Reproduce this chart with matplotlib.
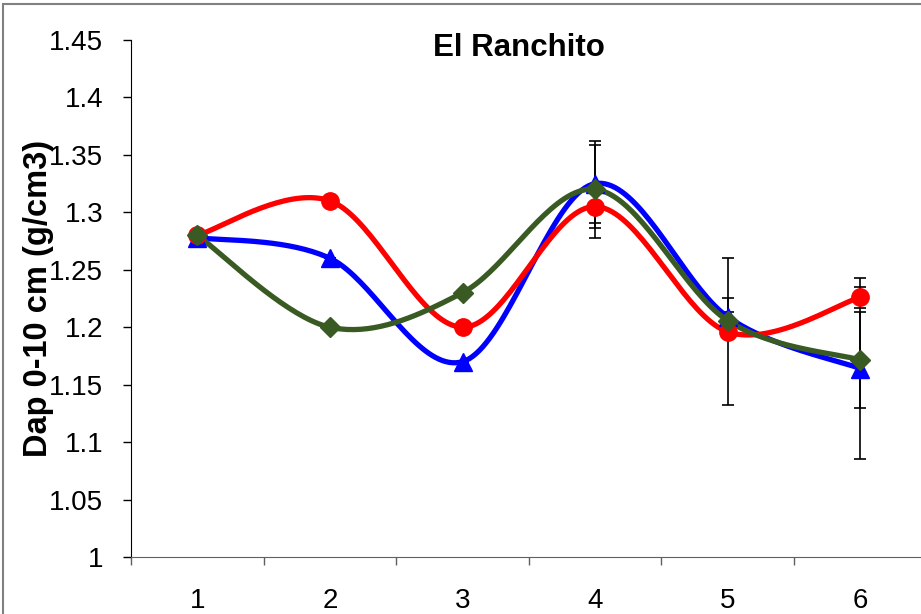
import numpy as np
import matplotlib
matplotlib.use("Agg")
import matplotlib.pyplot as plt
from matplotlib.patches import Rectangle

plt.rcParams['font.family'] = ['Liberation Sans', 'DejaVu Sans']

# sampling dates and bulk density (g/cm3) per treatment
fechas = [1, 2, 3, 4, 5, 6]
dap_rojo = [1.28, 1.31, 1.20, 1.305, 1.196, 1.226]
dap_azul = [1.278, 1.26, 1.17, 1.325, 1.209, 1.164]
dap_verde = [1.28, 1.20, 1.23, 1.32, 1.2057, 1.1715]

# error bars (lower, upper)
err_rojo = [[0, 0, 0, 0.019, 0.0, 0.009], [0, 0, 0, 0.019, 0.017, 0.009]]
err_azul = [[0, 0, 0, 0.034, 0.077, 0.079], [0, 0, 0, 0.034, 0.051, 0.079]]
err_verde = [[0, 0, 0, 0.042, 0.0, 0.042], [0, 0, 0, 0.042, 0.0195, 0.042]]

titulo = "El Ranchito"
etiqueta_y = "Dap 0-10 cm (g/cm3)"


def suavizar(x, y, n=40):
    # Catmull-Rom style bezier smoothing, like spreadsheet "smoothed line"
    x = np.asarray(x, float)
    y = np.asarray(y, float)
    px = np.concatenate([[x[0]], x, [x[-1]]])
    py = np.concatenate([[y[0]], y, [y[-1]]])
    xs, ys = [], []
    t = np.linspace(0, 1, n)
    for i in range(1, len(px) - 2):
        p0 = np.array([px[i], py[i]])
        p3 = np.array([px[i + 1], py[i + 1]])
        c1 = p0 + (np.array([px[i + 1], py[i + 1]]) - np.array([px[i - 1], py[i - 1]])) / 6
        c2 = p3 - (np.array([px[i + 2], py[i + 2]]) - np.array([px[i], py[i]])) / 6
        b = ((1 - t) ** 3)[:, None] * p0 + (3 * (1 - t) ** 2 * t)[:, None] * c1 \
            + (3 * (1 - t) * t ** 2)[:, None] * c2 + (t ** 3)[:, None] * p3
        xs.extend(b[:, 0])
        ys.extend(b[:, 1])
    return xs, ys


fig = plt.figure(figsize=(9.21, 6.14), dpi=100)
ax = fig.add_axes([131 / 921, 57 / 614, 795.6 / 921, 517 / 614])

series = [
    (dap_azul, err_azul, '#0000ff', '^', 13),
    (dap_rojo, err_rojo, '#ff0000', 'o', 12.5),
    (dap_verde, err_verde, '#3a5a24', 'D', 10),
]
for vals, err, col, mk, ms in series:
    ax.errorbar(fechas, vals, yerr=err, fmt='none', ecolor='black',
                elinewidth=1.2, capsize=4.5, capthick=1.2, zorder=2)
for vals, err, col, mk, ms in series:
    sx, sy = suavizar(fechas, vals)
    ax.plot(sx, sy, color=col, lw=3.8, zorder=3, solid_capstyle='round')
    ax.plot(fechas, vals, linestyle='none', marker=mk, ms=ms, color=col, zorder=4)

ax.set_xlim(0.5, 6.5)
ax.set_ylim(1.0, 1.45)
ax.set_yticks(np.arange(1.0, 1.451, 0.05))
ax.set_yticklabels(['1', '1.05', '1.1', '1.15', '1.2', '1.25', '1.3', '1.35', '1.4', '1.45'])
ax.set_xticks(fechas)
ax.set_xticks(np.arange(0.5, 6.6, 1), minor=True)
ax.tick_params(axis='x', which='major', length=0, pad=22, labelsize=20)
ax.tick_params(axis='x', which='minor', length=6, width=1, color='#606060')
ax.tick_params(axis='y', length=6, width=1, pad=14, labelsize=20, color='black')

for s in ['top', 'right']:
    ax.spines[s].set_visible(False)
ax.spines['left'].set_color('black')
ax.spines['bottom'].set_color('#606060')

ax.set_ylabel(etiqueta_y, fontsize=23.5, fontweight='bold')
ax.yaxis.set_label_coords(-0.097, 0.5)
ax.text(0.488, 0.985, titulo, transform=ax.transAxes, ha='center', va='center',
        fontsize=22.5, fontweight='bold')

# outer chart frame
fig.add_artist(Rectangle((3 / 921, -0.1), 1.2, (610 / 614) + 0.1,
                         transform=fig.transFigure, fill=False,
                         ec='#808080', lw=1.5, clip_on=False))

fig.savefig('out.png', dpi=100)
